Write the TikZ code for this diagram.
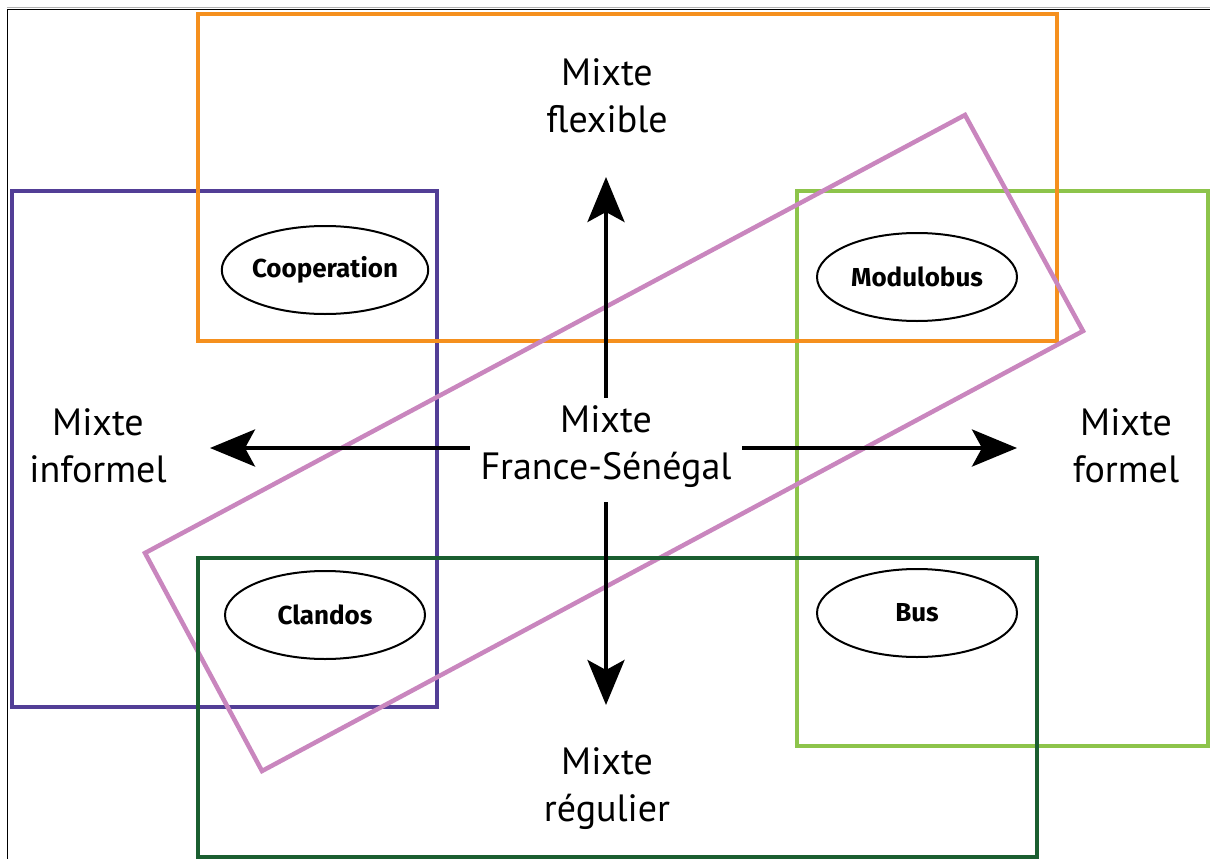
\documentclass[tikz,border=0pt]{standalone}
\usepackage{fontspec}
\setmainfont{PT Sans}
\newfontfamily\ellfont{Fira Sans}
\usetikzlibrary{arrows.meta,shapes.geometric}
\definecolor{boxorange}{RGB}{245,144,30}
\definecolor{boxpurple}{RGB}{82,62,150}
\definecolor{boxlime}{RGB}{141,196,75}
\definecolor{boxgreen}{RGB}{26,94,48}
\definecolor{boxpink}{RGB}{201,134,190}
\tikzset{
  mixte/.style={align=center, font=\fontsize{38}{47}\selectfont, inner sep=0pt},
  actor/.style={ellipse, draw, line width=2pt, minimum width=200pt, minimum height=88pt,
    inner sep=0pt, font=\ellfont\bfseries\fontsize{26}{30}\selectfont},
  zone/.style={line width=4.5pt},
  axis/.style={line width=4pt, -{Stealth[length=45pt,width=37pt,inset=10pt]}}
}
\begin{document}
\begin{tikzpicture}[x=1pt, y=-1pt]
    \useasboundingbox (0,0) rectangle (1210,859);
    % Frame
    \draw[gray!60, line width=1pt] (7,7.5) -- (1210,7.5);
    \draw[line width=1.5pt] (7.5,859) -- (7.5,9.5) -- (1210,9.5);
    % Zones
    \draw[zone, boxpurple] (12,191) rectangle (437,707);
    \draw[zone, boxlime] (797,191) rectangle (1208,746);
    \draw[zone, boxorange] (198,14) rectangle (1057,341);
    \draw[zone, boxpink, line join=miter] (965,115) -- (1083,331) -- (262,771) -- (145,553) -- cycle;
    \draw[zone, boxgreen] (198,558) rectangle (1037,857);
    % Actors
    \node[actor] (coop) at (325,270) {Cooperation};
    \node[actor] (modulo) at (917,277) {Modulobus};
    \node[actor] (clandos) at (325,615) {Clandos};
    \node[actor] (bus) at (917,613) {Bus};
    % Poles
    \node[mixte, minimum width=272pt, minimum height=98pt] (centre) at (606,447) {Mixte\\France-Sénégal};
    \node[mixte] (flex) at (607,96) {Mixte\\flexible};
    \node[mixte] (reg) at (607,789) {Mixte\\régulier};
    \node[mixte] (inf) at (98,446) {Mixte\\informel};
    \node[mixte] (form) at (1126,446) {Mixte\\formel};
    % Axes
    \coordinate (tipN) at (606,177);
    \coordinate (tipS) at (606,705);
    \coordinate (tipW) at (210,448);
    \coordinate (tipE) at (1017,448);
    \draw[axis] (centre.north) -- (tipN);
    \draw[axis, shorten <=6pt] (centre.south) -- (tipS);
    \draw[axis] (centre.west |- tipW) -- (tipW);
    \draw[axis] (centre.east |- tipE) -- (tipE);
\end{tikzpicture}
\end{document}
